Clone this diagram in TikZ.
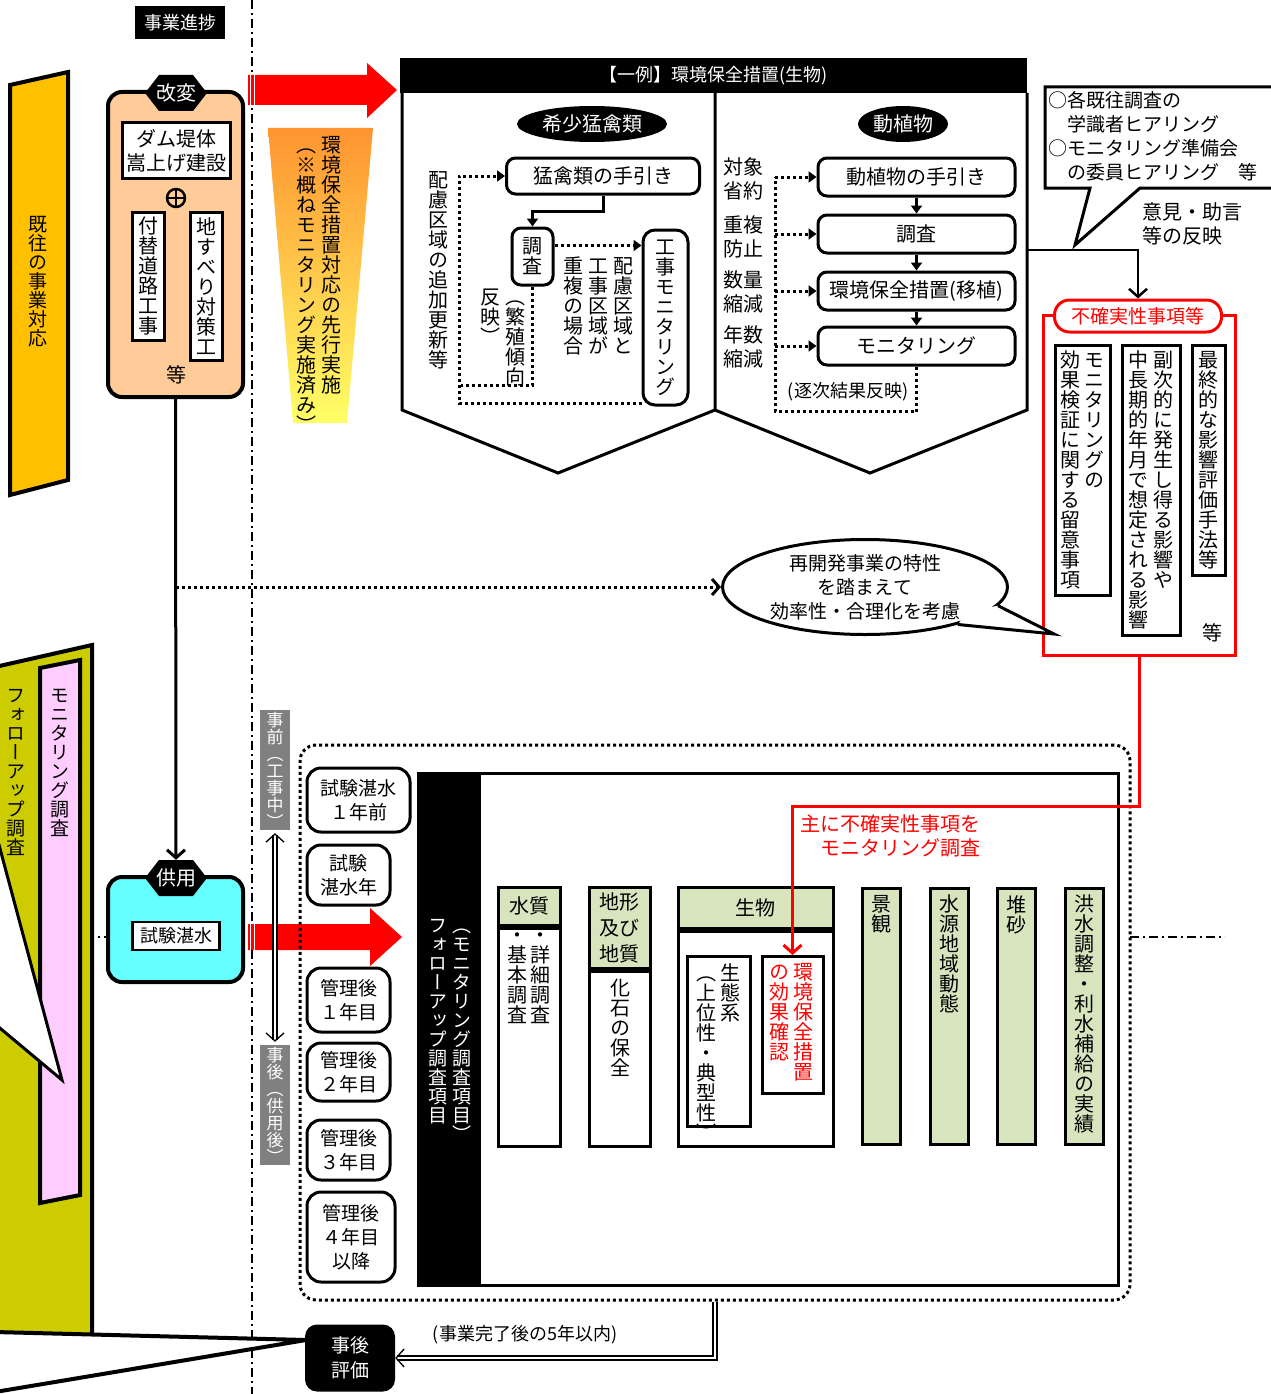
\documentclass[tikz,border=0pt]{standalone}
\usepackage{fontspec}
\setmainfont{Noto Sans CJK JP}
\newfontfamily\vf[RawFeature=+vert]{Noto Sans CJK JP}
\usetikzlibrary{arrows.meta,shapes.geometric,calc}
\definecolor{ogold}{HTML}{FFC000}
\definecolor{peach}{HTML}{FFCC99}
\definecolor{cyanbox}{HTML}{66FFFF}
\definecolor{olivec}{HTML}{CCCC00}
\definecolor{pinkbar}{HTML}{FFCCFF}
\definecolor{lgreen}{HTML}{D7E4BD}
\definecolor{grayl}{HTML}{808080}
\definecolor{gtop}{HTML}{FF9430}
\definecolor{gbot}{HTML}{FFFF66}
\makeatletter
\def\vt@end{\vt@end}
\def\vt@loop#1{\ifx\vt@end#1\else\hbox to 1em{\hss#1\hss}\expandafter\vt@loop\fi}
\newcommand\vt[1]{\vtop{\vf\baselineskip=1em\lineskiplimit=-30pt\lineskip=0pt\vt@loop#1\vt@end}}
\makeatother
\newcommand\vg{\hskip 5pt}
\newcommand\fsz[1]{\fontsize{#1}{#1}\selectfont}
\begin{document}
\begin{tikzpicture}[x=1pt,y=-1pt,
  every node/.style={font=\fontsize{20}{24}\selectfont, inner sep=1pt},
  rbox/.style={draw,line width=3pt,rounded corners=9pt,fill=white},
  stage/.style={draw,line width=3pt,rounded corners=14pt,fill=white,align=center,font=\fontsize{19}{24}\selectfont},
  dotl/.style={line width=3pt,dash pattern=on 3pt off 3pt},
  dda/.style={line width=2.2pt,dash pattern=on 9pt off 4pt on 2pt off 4pt},
  tri/.style={-{Triangle[length=8pt,width=11pt]}},
  barb/.style={-{Straight Barb[length=8pt,width=18pt]}},
  hexa/.pic={\fill[black] (-31,0) -- (-17,-18) -- (17,-18) -- (31,0) -- (17,18) -- (-17,18) -- cycle;},
]
\useasboundingbox (0,0) rectangle (1270,1394);
\fill[white] (0,0) rectangle (1270,1394);

% ---- guide lines
\draw[dda] (252,0) -- (252,1394);
\draw[dda] (85,937) -- (108,937);
\draw[dda] (1130,937) -- (1225,937);

% ---- progress label
\node[fill=black,text=white,minimum width=90,minimum height=33,font=\fontsize{18}{20}\selectfont] (prog) at (180,23) {事業進捗};

% ---- left gold bar
\draw[line width=4pt,fill=ogold] (10,85) -- (68,72) -- (68,480) -- (10,495) -- cycle;
\node[anchor=north] (kiou) at (38,215) {\fsz{19}\vt{既往の事業対応}};

% ---- olive region (follow-up)
\fill[olivec] (-5,667) -- (92,645) -- (92,1334) -- (-5,1332) -- cycle;
\draw[line width=4pt] (-5,667) -- (92,645) -- (92,1334);
\node[anchor=north] (futxt) at (16,688) {\fsz{19}\vt{フォローアップ調査}};
\draw[line width=4pt,fill=pinkbar] (40,668) -- (80,660) -- (80,1195) -- (40,1203) -- cycle;
\node[anchor=north] (montxt) at (60,688) {\fsz{19}\vt{モニタリング調査}};
\draw[line width=3pt,fill=white] (-5,830) -- (62,1080) -- (-5,1024);

% ---- bottom wedge to 事後評価
\coordinate (wtip) at (306,1340);
\fill[white] (-5,1332) -- (wtip) -- (-5,1394) -- cycle;
\draw[line width=4pt] (-5,1332) -- (wtip) -- (-5,1392);
\node[fill=black,text=white,rounded corners=12pt,minimum width=90,minimum height=67,align=center,font=\fontsize{19}{25}\selectfont] (jigohyoka) at (350,1358) {事後\\評価};

% ---- 改変 box
\node[draw,line width=4pt,fill=peach,rounded corners=14pt,minimum width=135,minimum height=305] (kaihen) at (175.5,244.5) {};
\pic at (176,93) {hexa};
\node[text=white,minimum height=36] (kaihenlbl) at (176,93) {改変};
\node[draw,line width=3pt,fill=white,minimum width=108,minimum height=55,align=center,inner sep=0pt,font=\fontsize{20}{24}\selectfont] (damu) at (176,150.5) {ダム堤体\\嵩上げ建設};
\node[circle,draw,line width=2.5pt,minimum size=18,inner sep=0pt] (plus) at (176,198) {};
\draw[line width=2.5pt] (plus.north) -- (plus.south) (plus.west) -- (plus.east);
\node[draw,line width=3pt,fill=white,minimum width=32,minimum height=128,inner sep=0pt] (tsuke) at (148,276) {\vt{付替道路工事}};
\node[draw,line width=3pt,fill=white,minimum width=32,minimum height=148,inner sep=0pt] (jisu) at (206,286) {\vt{地すべり対策工}};
\node (nado1) at (176,375) {等};

% ---- 供用 box
\node[draw,line width=4pt,fill=cyanbox,rounded corners=14pt,minimum width=135,minimum height=105] (kyoyo) at (175.5,929.5) {};
\pic at (176,878) {hexa};
\node[text=white,minimum height=36] (kyolbl) at (176,878) {供用};
\node[draw,line width=2.5pt,fill=white,minimum width=87,minimum height=28,inner sep=0pt,font=\fontsize{18}{20}\selectfont] (shiken) at (176,936) {試験湛水};
\draw[line width=3pt,barb] (kaihen.south) -- (kyolbl.north);

% ---- red arrows
\fill[red] (248,75) -- (367,75) -- (367,63) -- (397,90) -- (367,118) -- (367,105) -- (248,105) -- cycle;
\draw[white,line width=1pt] (250.5,75) -- (250.5,105) (254,75) -- (254,105);
\fill[red] (248,924) -- (370,924) -- (370,908) -- (402,937) -- (370,966) -- (370,950) -- (248,950) -- cycle;
\draw[white,line width=1pt] (250.5,924) -- (250.5,950) (254,924) -- (254,950);

% ---- gradient trapezoid
\shade[top color=gtop,bottom color=gbot] (268,128) -- (373,128) -- (347,423) -- (293,423) -- cycle;
\node[anchor=north] (senko) at (319,135) {\vt{（※概ねモニタリング実施済み）}\hskip 5pt\vt{環境保全措置対応の先行実施}};

% ---- example block
\node[fill=black,text=white,minimum width=627,minimum height=35,anchor=north west,font=\fontsize{18}{20}\selectfont] (rei) at (400,58) {【一例】環境保全措置(生物)};
\draw[line width=3pt] (402,93) -- (402,410) -- (558,473) -- (715,410) -- (715,93);
\draw[line width=3pt] (715,410) -- (870,473) -- (1027,410) -- (1027,93);

% left panel
\node[ellipse,fill=black,text=white,minimum width=150,minimum height=36,inner sep=0pt] (mokin) at (592,124) {希少猛禽類};
\node[rbox,minimum width=193,minimum height=36] (tebikiA) at (603,176) {猛禽類の手引き};
\node[anchor=north] (hairyo) at (438,170) {\vt{配慮区域の追加更新等}};
\node[rbox,minimum width=41,minimum height=57,inner sep=0pt] (chosaA) at (532.5,256.5) {\vt{調査}};
\node[rbox,rounded corners=12pt,minimum width=45,minimum height=175,inner sep=0pt] (kojimon) at (665.5,317.5) {\vt{工事モニタリング}};
\draw[line width=3pt,tri] (tebikiA.south) -- ++(0,16) -| (chosaA.north);
\node[anchor=north] (hanei) at (503,288) {\vt{反映）}\vg\vt{（繁殖傾向}};
\node[anchor=north] (jufuku) at (598,256) {\vt{重複の場合}\vg\vt{工事区域が}\vg\vt{配慮区域と}};
\draw[dotl,tri] ([yshift=11pt]chosaA.east) -- ([yshift=11pt]chosaA.east -| kojimon.west);
\coordinate (dj) at (461,385);
\draw[dotl] (chosaA.south) |- (dj);
\draw[dotl,tri] ([yshift=3pt]kojimon.south west) -| ($(tebikiA.west)+(-46,0)$) -- (tebikiA.west);

% right panel
\node[ellipse,fill=black,text=white,minimum width=90,minimum height=36,inner sep=0pt] (dosho) at (903,124) {動植物};
\node[rbox,minimum width=197,minimum height=38] (b1) at (916.5,177) {動植物の手引き};
\node[rbox,minimum width=197,minimum height=38] (b2) at (916.5,234) {調査};
\node[rbox,minimum width=197,minimum height=38] (b3) at (916.5,291) {環境保全措置(移植)};
\node[rbox,minimum width=197,minimum height=38] (b4) at (916.5,346) {モニタリング};
\draw[line width=2.5pt,tri] (b1.south) -- (b2.north);
\draw[line width=2.5pt,tri] (b2.south) -- (b3.north);
\draw[line width=2.5pt,tri] (b3.south) -- (b4.north);
\node[align=center] (l1) at (743,179) {対象\\省約};
\node[align=center] (l2) at (743,237) {重複\\防止};
\node[align=center] (l3) at (743,292) {数量\\縮減};
\node[align=center] (l4) at (743,347) {年数\\縮減};
\coordinate (dv) at (775,0);
\draw[dotl] (b4.south) -- ++(0,45) -| (b1.west -| dv);
\draw[dotl,tri] (b1.west -| dv) -- (b1.west);
\draw[dotl,tri] (b2.west -| dv) -- (b2.west);
\draw[dotl,tri] (b3.west -| dv) -- (b3.west);
\draw[dotl,tri] (b4.west -| dv) -- (b4.west);
\node[fill=white,font=\fontsize{18}{20}\selectfont] (chiji) at (848,392) {(逐次結果反映)};

% ---- top right bubble
\draw[line width=3pt,fill=white] (1045,87) -- (1280,87) -- (1280,188) -- (1140,188) -- (1075,245) -- (1090,188) -- (1045,188) -- cycle;
\node[anchor=north west,align=left,font=\fontsize{19}{24}\selectfont] (bub) at (1047,90) {○各既往調査の\\　学識者ヒアリング\\○モニタリング準備会\\　の委員ヒアリング　等};
\node[align=left] (iken) at (1192,224) {意見・助言\\等の反映};

% ---- uncertainty box
\node[draw=red,line width=3pt,minimum width=192,minimum height=340] (redbox) at (1139,485) {};
\coordinate (pR) at (1027,250);
\node[draw=red,line width=3pt,fill=white,text=red,rounded corners=15pt,minimum width=167,minimum height=32,inner sep=0pt,font=\fontsize{19}{20}\selectfont] (fuk) at (1138,316) {不確実性事項等};
\draw[line width=2.5pt,barb] (pR) -| (fuk.north);
\node[draw,line width=3pt,fill=white,minimum width=55,minimum height=250,inner sep=0pt] (u1) at (1082.5,470) {\vt{効果検証に関する留意事項}\hskip 4pt\vt{モニタリングの}};
\node[draw,line width=3pt,fill=white,minimum width=58,minimum height=290,inner sep=0pt] (u2) at (1151,490) {\vt{中長期的年月で想定される影響}\hskip 5pt\vt{副次的に発生し得る影響や}};
\node[draw,line width=3pt,fill=white,minimum width=33,minimum height=230,inner sep=0pt] (u3) at (1208.5,460) {\vt{最終的な影響評価手法等}};
\node (nado2) at (1212,633) {等};

% ---- speech ellipse
\node[ellipse,draw,line width=3pt,fill=white,minimum width=285,minimum height=95,align=center,inner sep=0pt,font=\fontsize{19}{24}\selectfont] (saikai) at (865,587) {再開発事業の特性\\を踏まえて\\効率性・合理化を考慮};
\coordinate (stip) at (1054,634);
\fill[white] (saikai.-8) -- (stip) -- (saikai.-22) -- ([shift={(-10,-6)}]saikai.-15) -- cycle;
\draw[line width=3pt,line join=miter] (saikai.-8) -- (stip) -- (saikai.-22);
\coordinate (dstart) at (176,587);
\draw[dotl,-{Straight Barb[length=7pt,width=16pt]}] (dstart) -- (saikai.west);

% ---- follow-up dotted frame
\node[draw,dotl,rounded corners=16pt,minimum width=830,minimum height=555] (fubox) at (715,1022.5) {};

% gray period labels
\node[fill=grayl,text=white,minimum width=30,minimum height=120,inner sep=0pt] (jizen) at (275,770) {\fsz{17}\vt{事前（工事中）}};
\node[fill=grayl,text=white,minimum width=30,minimum height=120,inner sep=0pt] (jigo) at (275,1105) {\fsz{17}\vt{事後（供用後）}};
\draw[double=white,double distance=2.5pt,line width=1.3pt,{Straight Barb[length=8pt,width=18pt]}-{Straight Barb[length=8pt,width=18pt]}] ([yshift=-3pt]jizen.south) -- ([yshift=3pt]jigo.north);

% stage boxes
\node[stage,minimum width=103,minimum height=64] (s1) at (358.5,800) {試験湛水\\１年前};
\node[stage,minimum width=83,minimum height=60] (s2) at (348.5,875) {試験\\湛水年};
\node[stage,minimum width=83,minimum height=64] (s3) at (348.5,1000) {管理後\\１年目};
\node[stage,minimum width=83,minimum height=58] (s4) at (348.5,1072) {管理後\\２年目};
\node[stage,minimum width=83,minimum height=60] (s5) at (348.5,1150) {管理後\\３年目};
\node[stage,minimum width=88,minimum height=90] (s6) at (351,1237) {管理後\\４年目\\以降};

% big items box
\node[draw,line width=3pt,fill=white,minimum width=700,minimum height=512] (bigbox) at (768,1029) {};
\node[fill=black,minimum width=64,minimum height=512,anchor=north west,inner sep=0pt] (bar) at (bigbox.north west) {};
\node[text=white,anchor=north] (bartxt) at (450,918) {\fsz{19}\vt{フォローアップ調査項目}\hskip 5pt\vt{（モニタリング調査項目）}};

% items
\node[draw,line width=3pt,fill=lgreen,minimum width=62,minimum height=38,inner sep=0pt] (suih) at (529,906) {水質};
\node[draw,line width=3pt,fill=white,minimum width=62,minimum height=218,anchor=north,inner sep=0pt] (suib) at (suih.south) {};
\node[anchor=north] (suit) at (529,932) {\vt{・基本調査}\hskip 3pt\vt{・詳細調査}};

\node[draw,line width=3pt,fill=lgreen,minimum width=61,minimum height=81,align=center,inner sep=0pt,font=\fontsize{20}{26}\selectfont] (chih) at (619.5,927.5) {地形\\及び\\地質};
\node[draw,line width=3pt,fill=white,minimum width=61,minimum height=175,anchor=north,inner sep=0pt] (chib) at (chih.south) {};
\node[anchor=north] (chit) at (620,978) {\vt{化石の保全}};

\node[draw,line width=3pt,fill=lgreen,minimum width=155,minimum height=41,inner sep=0pt] (seih) at (755.5,907.5) {生物};
\node[draw,line width=3pt,fill=white,minimum width=155,minimum height=215,anchor=north,inner sep=0pt] (seib) at (seih.south) {};
\node[draw,line width=3pt,fill=white,minimum width=63,minimum height=170,anchor=north,inner sep=0pt] (seita) at (718.5,955) {};
\node[anchor=north] (seitt) at (718,962) {\vt{（上位性・典型性）}\hskip 4pt\vt{生態系}};
\node[draw,line width=3pt,fill=white,minimum width=61,minimum height=137,anchor=north,inner sep=0pt] (kanb) at (792.5,955) {};
\node[anchor=north,text=red] (kant) at (791,962) {\vt{の効果確認}\hskip 4pt\vt{環境保全措置}};

\node[draw,line width=3pt,fill=lgreen,minimum width=38,minimum height=256,anchor=north,inner sep=0pt] (kei) at (881,887) {};
\node[anchor=north] (keit) at (881,894) {\vt{景観}};
\node[draw,line width=3pt,fill=lgreen,minimum width=38,minimum height=256,anchor=north,inner sep=0pt] (sui2) at (949,887) {};
\node[anchor=north] (sui2t) at (949,894) {\vt{水源地域動態}};
\node[draw,line width=3pt,fill=lgreen,minimum width=38,minimum height=256,anchor=north,inner sep=0pt] (tai) at (1016,887) {};
\node[anchor=north] (tait) at (1016,894) {\vt{堆砂}};
\node[draw,line width=3pt,fill=lgreen,minimum width=38,minimum height=256,anchor=north,inner sep=0pt] (kozu) at (1084,887) {};
\node[anchor=north] (kozut) at (1084,894) {\vt{洪水調整・利水補給の実績}};

% red monitoring connector
\draw[red,line width=3pt,-{Straight Barb[length=8pt,width=18pt]}] (redbox.south) -- ++(0,150) -| (kanb.north);
\node[text=red,align=right,font=\fontsize{20}{24}\selectfont] (omo) at (890,836) {主に不確実性事項を\\モニタリング調査};

% post evaluation connector
\draw[double=white,double distance=2.5pt,line width=1.3pt,-{Straight Barb[length=8pt,width=18pt]}] (fubox.south) |- (jigohyoka.east);
\node[font=\fontsize{18}{20}\selectfont] (kanryo) at (525,1335) {(事業完了後の5年以内)};
\end{tikzpicture}
\end{document}
